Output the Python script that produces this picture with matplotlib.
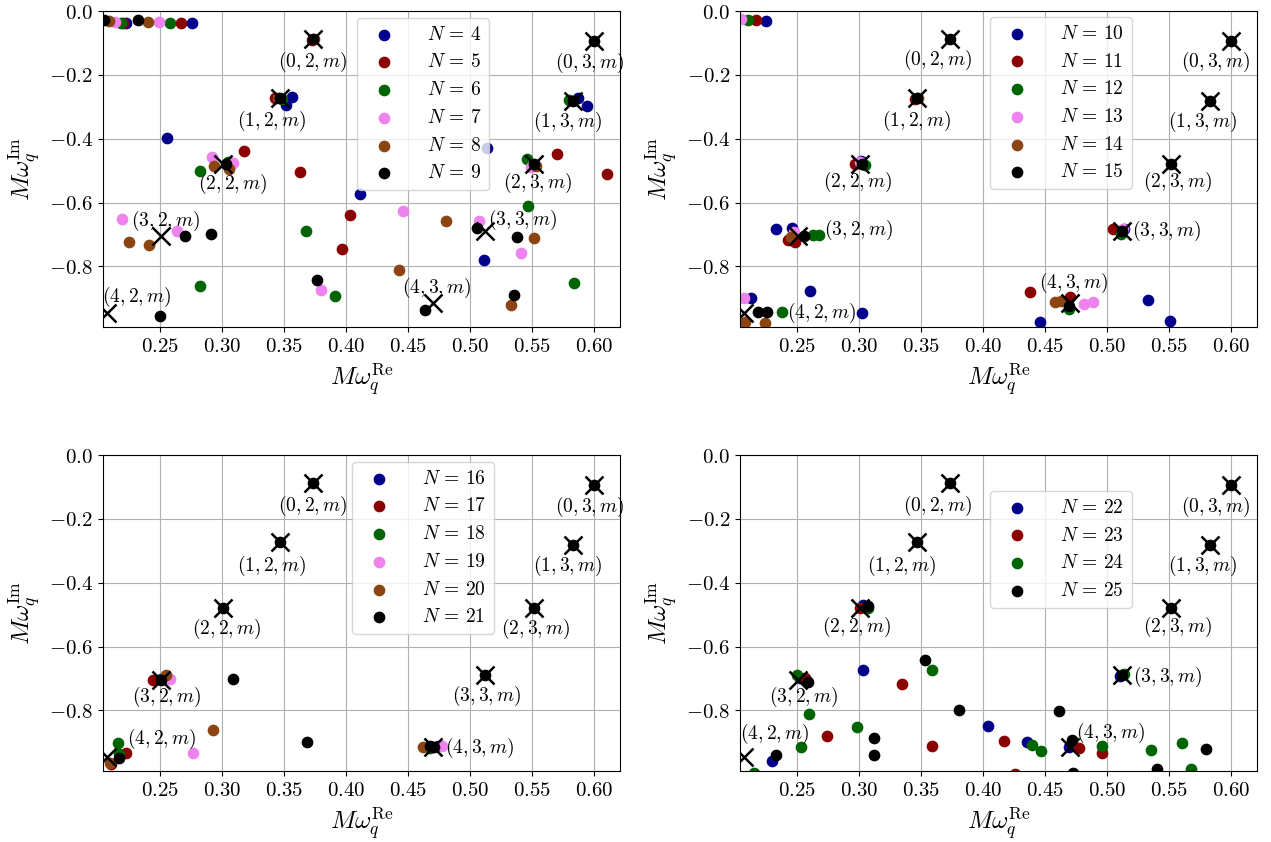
import numpy as np
import matplotlib as mpl
import matplotlib.pyplot as plt
from matplotlib.ticker import FuncFormatter

mpl.rcParams['mathtext.fontset'] = 'cm'
mpl.rcParams['font.family'] = ['DejaVu Serif']

# Schwarzschild QNMs (n, l): real and imaginary parts
qnm_n = [0, 1, 2, 3, 4, 0, 1, 2, 3, 4]
qnm_l = [2, 2, 2, 2, 2, 3, 3, 3, 3, 3]
qnm_re = [0.37367, 0.34671, 0.30105, 0.25150, 0.20752, 0.59944, 0.58264, 0.55168, 0.51196, 0.46983]
qnm_im = [-0.08896, -0.27391, -0.47828, -0.70514, -0.94684, -0.09270, -0.28130, -0.47909, -0.69034, -0.91565]

########################## panel 1 : N = 4 ... 9 ##########################
N4_re = [0.2231, 0.2764, 0.3568, 0.3520, 0.2560, 0.4110, 0.5133, 0.5871, 0.5939, 0.5114]
N4_im = [-0.038, -0.039, -0.268, -0.294, -0.397, -0.574, -0.428, -0.274, -0.298, -0.780]
N5_re = [0.2207, 0.2675, 0.3430, 0.3183, 0.3627, 0.4032, 0.3965, 0.5697, 0.6105, 0.3725]
N5_im = [-0.038, -0.037, -0.272, -0.438, -0.504, -0.640, -0.746, -0.449, -0.509, -0.090]
N6_re = [0.2190, 0.2586, 0.3487, 0.2828, 0.3050, 0.3680, 0.3914, 0.2828, 0.5470, 0.5833, 0.5798, 0.5460]
N6_im = [-0.036, -0.036, -0.276, -0.501, -0.474, -0.690, -0.894, -0.860, -0.612, -0.852, -0.279, -0.465]
N7_re = [0.2143, 0.2498, 0.2920, 0.3090, 0.2200, 0.2639, 0.4462, 0.3796, 0.5074, 0.5406, 0.5490]
N7_im = [-0.034, -0.035, -0.457, -0.475, -0.652, -0.688, -0.628, -0.875, -0.659, -0.757, -0.488]
N8_re = [0.2094, 0.2409, 0.2940, 0.3060, 0.2250, 0.2411, 0.4810, 0.4430, 0.5516, 0.5331, 0.5530, 0.3455, 0.3745]
N8_im = [-0.032, -0.033, -0.485, -0.494, -0.725, -0.733, -0.658, -0.811, -0.711, -0.920, -0.484, -0.271, -0.089]
N9_re = [0.2054, 0.2328, 0.3737, 0.3467, 0.3035, 0.5994, 0.5826, 0.5517, 0.2708, 0.2911, 0.3769, 0.4641, 0.5052, 0.5380, 0.5350, 0.2506]
N9_im = [-0.029, -0.028, -0.089, -0.274, -0.478, -0.093, -0.281, -0.479, -0.706, -0.697, -0.844, -0.937, -0.679, -0.708, -0.889, -0.957]

########################## panel 2 : N = 10 ... 15 ##########################
N10_re = [0.2253, 0.3016, 0.2333, 0.2465, 0.2608, 0.3030, 0.2132, 0.5135, 0.5328, 0.4462, 0.5503]
N10_im = [-0.031, -0.469, -0.683, -0.681, -0.877, -0.945, -0.900, -0.684, -0.905, -0.974, -0.971]
N11_re = [0.2177, 0.3455, 0.2970, 0.2433, 0.2487, 0.5048, 0.4376, 0.4704]
N11_im = [-0.029, -0.275, -0.480, -0.718, -0.724, -0.684, -0.879, -0.895]
N12_re = [0.2110, 0.3051, 0.2634, 0.2680, 0.5115, 0.2384, 0.4690]
N12_im = [-0.029, -0.482, -0.703, -0.701, -0.699, -0.942, -0.932]
N13_re = [0.2056, 0.3011, 0.2478, 0.5130, 0.2075, 0.4812, 0.4887]
N13_im = [-0.026, -0.472, -0.692, -0.684, -0.898, -0.918, -0.911]
N14_re = [0.3475, 0.2452, 0.2083, 0.2245, 0.4578, 0.4630]
N14_im = [-0.273, -0.708, -0.974, -0.978, -0.911, -0.909]
N15_re = [0.3737, 0.3467, 0.3024, 0.5994, 0.5826, 0.5517, 0.2559, 0.5120, 0.2191, 0.2263, 0.4691]
N15_im = [-0.089, -0.274, -0.480, -0.093, -0.281, -0.479, -0.706, -0.690, -0.942, -0.942, -0.923]

########################## panel 3 : N = 16 ... 21 ##########################
N16_re = [0.4745, 0.2510]
N16_im = [-0.913, -0.702]
N17_re = [0.2446, 0.2231, 0.2110]
N17_im = [-0.705, -0.935, -0.968]
N18_re = [0.2525, 0.2164, 0.2177, 0.4680]
N18_im = [-0.703, -0.903, -0.937, -0.918]
N19_re = [0.2586, 0.2769, 0.4772]
N19_im = [-0.701, -0.934, -0.913]
N20_re = [0.2548, 0.2930, 0.2097, 0.4624]
N20_im = [-0.688, -0.860, -0.965, -0.916]
N21_re = [0.3737, 0.5994, 0.3467, 0.5826, 0.3011, 0.5517, 0.2515, 0.5120, 0.3091, 0.3688, 0.2177, 0.4677, 0.4710]
N21_im = [-0.089, -0.093, -0.274, -0.281, -0.478, -0.479, -0.705, -0.690, -0.702, -0.899, -0.950, -0.913, -0.915]

########################## panel 4 : N = 22 ... 25 ##########################
N22_re = [0.3035, 0.2525, 0.5105, 0.3032, 0.4045, 0.2298, 0.4353, 0.4695]
N22_im = [-0.470, -0.700, -0.692, -0.672, -0.848, -0.960, -0.898, -0.915]
N23_re = [0.3010, 0.2567, 0.3347, 0.2747, 0.3589, 0.4170, 0.4773, 0.4960, 0.4259]
N23_im = [-0.478, -0.700, -0.716, -0.881, -0.913, -0.897, -0.918, -0.934, -0.998]
N24_re = [0.3078, 0.2505, 0.5135, 0.3594, 0.2600, 0.2989, 0.2532, 0.2156, 0.4393, 0.4468, 0.4956, 0.5350, 0.5599, 0.5674]
N24_im = [-0.479, -0.689, -0.687, -0.672, -0.811, -0.853, -0.916, -0.995, -0.907, -0.926, -0.911, -0.924, -0.902, -0.984]
N25_re = [0.3737, 0.5994, 0.3467, 0.5826, 0.3078, 0.5517, 0.2594, 0.5120, 0.3530, 0.3804, 0.3126, 0.3126, 0.2333, 0.4615, 0.4714, 0.5795, 0.5398, 0.4723]
N25_im = [-0.089, -0.093, -0.274, -0.281, -0.472, -0.479, -0.711, -0.690, -0.642, -0.798, -0.887, -0.939, -0.940, -0.803, -0.893, -0.921, -0.984, -0.995]

panels = [
    [(4, N4_re, N4_im), (5, N5_re, N5_im), (6, N6_re, N6_im), (7, N7_re, N7_im), (8, N8_re, N8_im), (9, N9_re, N9_im)],
    [(10, N10_re, N10_im), (11, N11_re, N11_im), (12, N12_re, N12_im), (13, N13_re, N13_im), (14, N14_re, N14_im), (15, N15_re, N15_im)],
    [(16, N16_re, N16_im), (17, N17_re, N17_im), (18, N18_re, N18_im), (19, N19_re, N19_im), (20, N20_re, N20_im), (21, N21_re, N21_im)],
    [(22, N22_re, N22_im), (23, N23_re, N23_im), (24, N24_re, N24_im), (25, N25_re, N25_im)],
]

colors6 = ['darkblue', 'darkred', 'darkgreen', 'violet', 'saddlebrown', 'black']
colors4 = ['darkblue', 'darkred', 'darkgreen', 'black']

# 标签偏移 (像素, 向上为正), 顺序同 qnm 列表
lab_off = [
    [(0, -23), (-8, -22), (10, -20), (4, 15), (30, 16), (-4, -22), (-5, -21), (3, -19), (38, 11), (4, 15)],
    [(-13, -21), (0, -22), (-2, -18), (60, 6), (78, 0), (-15, -21), (-7, -21), (6, -18), (45, 0), (4, 20)],
    [(0, -23), (-8, -23), (4, -21), (5, -17), (55, 18), (-4, -22), (-5, -21), (1, -21), (2, -21), (47, -1)],
    [(-13, -23), (-15, -23), (-3, -19), (5, -17), (31, 23), (-15, -22), (-7, -21), (6, -19), (46, -2), (41, 14)],
]
leg_pos = [(0.491, 0.978), (0.4836, 0.981), (0.4816, 0.978), (0.4836, 0.886)]

rects = [[0.0810, 0.6116, 0.4068, 0.3753], [0.5822, 0.6116, 0.4068, 0.3753],
         [0.0810, 0.0843, 0.4068, 0.3753], [0.5822, 0.0843, 0.4068, 0.3753]]

fig = plt.figure(figsize=(12.71, 8.42), dpi=100)

for k in range(4):
    ax = fig.add_axes(rects[k])
    cols = colors6 if len(panels[k]) == 6 else colors4
    for j, (N, re, im) in enumerate(panels[k]):
        ax.scatter(re, im, s=55, color=cols[j], label=r'$N\,=\,%d$' % N, zorder=2)
    ax.plot(qnm_re, qnm_im, 'x', color='k', ms=13, mew=1.8, zorder=3)
    for i in range(len(qnm_re)):
        dx, dy = lab_off[k][i]
        ax.annotate(r'$(%d, %d, m)$' % (qnm_n[i], qnm_l[i]), xy=(qnm_re[i], qnm_im[i]),
                    xytext=(dx * 0.72, dy * 0.72), textcoords='offset points',
                    ha='center', va='center', fontsize=14, zorder=4)
    ax.set_xlim(0.2044, 0.6207)
    ax.set_ylim(-0.99, 0.0)
    ax.set_xticks(np.arange(0.25, 0.601, 0.05))
    ax.set_yticks([-0.8, -0.6, -0.4, -0.2, 0.0])
    ax.xaxis.set_major_formatter(FuncFormatter(lambda v, p: r'$%.2f$' % v))
    ax.yaxis.set_major_formatter(FuncFormatter(lambda v, p: r'$%.1f$' % v))
    ax.tick_params(labelsize=15)
    ax.grid(True, zorder=0)
    ax.set_axisbelow(True)
    ax.set_xlabel(r'$M\omega_q^{\rm Re}$', fontsize=18)
    ax.set_ylabel(r'$M\omega_q^{\rm Im}$', fontsize=18)
    ax.legend(loc='upper left', bbox_to_anchor=leg_pos[k], borderaxespad=0, fontsize=14,
              handletextpad=1.2)

plt.savefig('out.png', dpi=100)
